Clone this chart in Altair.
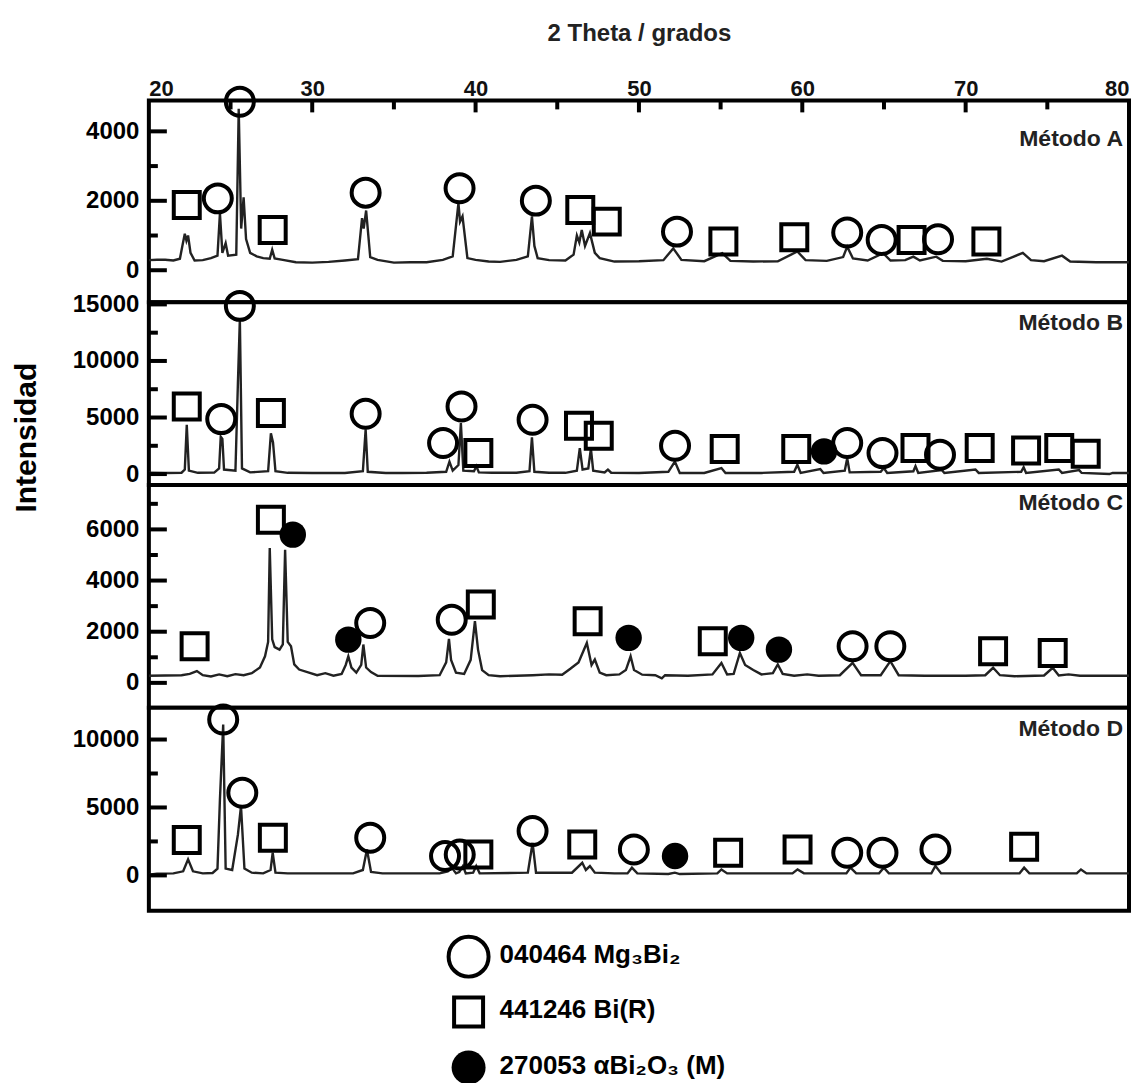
import altair as alt
import pandas as pd

FONT = "Liberation Sans"

# ---------------- data ----------------
x_major = [20, 30, 40, 50, 60, 70, 80]
x_minor = [25, 35, 45, 55, 65, 75]

panel_names = ["Método A", "Método B", "Método C", "Método D"]

# Método A trace (2θ, intensity)
a_x = [20.0, 20.5, 21.0, 21.5, 21.9, 22.05, 22.2, 22.3, 22.4, 22.55, 22.8, 23.3, 23.8, 24.2, 24.35, 24.5,
       24.7, 24.85, 25.35, 25.5, 25.65, 25.8, 25.95, 26.2, 26.6, 27.0, 27.4, 27.55, 27.7, 28.2, 29.0, 30.0,
       31.0, 32.0, 32.8, 33.05, 33.15, 33.3, 33.55, 34.0, 35.0, 36.0, 37.0, 38.0, 38.6, 38.95, 39.05, 39.2,
       39.5, 40.0, 40.8, 41.5, 42.5, 43.2, 43.45, 43.6, 43.8, 44.5, 45.5, 46.0, 46.2, 46.35, 46.5, 46.7,
       47.0, 47.3, 47.6, 48.5, 50.0, 51.5, 52.1, 52.6, 54.0, 55.1, 55.6, 57.0, 58.5, 59.7, 60.2, 61.5,
       62.5, 62.75, 63.1, 64.0, 64.95, 65.4, 66.3, 66.8, 67.2, 68.2, 68.6, 70.0, 71.3, 72.2, 73.5, 74.0,
       74.8, 75.9, 76.4, 78.0, 80.0]
a_y = [290, 300, 300, 280, 330, 700, 1050, 850, 1000, 500, 280, 290, 350, 420, 1640, 500,
       780, 420, 450, 4650, 1200, 2100, 900, 500, 400, 350, 330, 590, 340, 300, 230, 220,
       240, 280, 320, 1500, 1200, 1720, 380, 300, 220, 230, 230, 300, 400, 1930, 1400, 1550,
       350, 300, 250, 240, 300, 400, 1550, 700, 350, 290, 280, 450, 1000, 800, 1160, 700,
       1070, 500, 350, 250, 260, 290, 630, 300, 260, 490, 270, 250, 260, 540, 290, 270,
       380, 680, 340, 280, 490, 280, 290, 390, 280, 390, 270, 260, 330, 250, 500, 290,
       260, 420, 250, 230, 230]

# Método B trace
b_x = [20.0, 21.0, 22.0, 22.2, 22.32, 22.45, 23.0, 24.0, 24.3, 24.4, 24.5, 24.6, 25.3, 25.45, 25.57, 25.7,
       26.2, 27.3, 27.47, 27.6, 27.75, 28.5, 30.0, 32.0, 33.1, 33.27, 33.4, 34.5, 35.5, 37.0, 38.2, 38.4,
       38.6, 38.95, 39.1, 39.25, 39.9, 40.05, 40.2, 41.0, 42.5, 43.3, 43.45, 43.6, 44.5, 45.5, 46.2, 46.38,
       46.55, 46.9, 47.06, 47.2, 47.9, 48.1, 48.3, 50.0, 51.8, 52.2, 52.5, 54.0, 55.05, 55.3, 57.5, 59.5,
       59.7, 59.9, 61.1, 61.3, 62.6, 62.75, 62.9, 64.8, 64.99, 65.2, 66.8, 66.93, 67.1, 68.55, 68.7, 70.6,
       70.8, 73.4, 73.55, 73.7, 75.7, 75.9, 76.95, 77.1, 78.8, 79.0, 80.0]
b_y = [120, 100, 120, 400, 4350, 300, 110, 130, 500, 3300, 3100, 400, 300, 8000, 13700, 500,
       150, 250, 3600, 2800, 250, 110, 100, 100, 250, 3950, 200, 100, 100, 120, 200, 1100,
       300, 800, 4500, 300, 250, 700, 150, 120, 120, 250, 3250, 200, 120, 110, 300, 2300,
       400, 500, 2250, 300, 150, 400, 120, 100, 200, 1100, 100, 100, 530, 100, 100, 200,
       820, 100, 450, 100, 300, 1400, 150, 200, 530, 100, 250, 700, 100, 350, 100, 400,
       100, 200, 600, 100, 400, 100, 350, 100, 0, 100, 100]

# Método C trace
c_x = [20.0, 21.0, 22.0, 22.5, 22.94, 23.3, 23.8, 24.3, 24.8, 25.3, 25.8, 26.3, 26.8, 27.11, 27.3, 27.4,
       27.55, 27.7, 28.0, 28.2, 28.34, 28.5, 28.7, 28.9, 29.2, 29.8, 30.3, 30.8, 31.3, 31.8, 32.05, 32.21,
       32.4, 32.7, 33.0, 33.13, 33.3, 33.6, 34.0, 36.5, 37.8, 38.2, 38.37, 38.5, 38.8, 39.3, 39.7, 39.96,
       40.15, 40.4, 40.8, 41.5, 42.5, 43.5, 44.5, 45.3, 45.8, 46.3, 46.81, 47.1, 47.3, 47.6, 48.0, 48.8,
       49.2, 49.49, 49.7, 50.2, 51.0, 51.4, 51.6, 53.0, 54.5, 55.05, 55.4, 55.8, 56.18, 56.5, 57.0, 57.5,
       58.2, 58.5, 58.8, 59.5, 60.3, 61.0, 62.3, 63.08, 63.6, 64.8, 65.39, 65.9, 67.5, 70.0, 71.2, 71.68,
       72.1, 73.0, 74.8, 75.33, 75.7, 76.3, 77.0, 80.0]
c_y = [280, 290, 300, 350, 460, 300, 250, 330, 260, 340, 300, 380, 600, 1040, 1600, 5270,
       1700, 1400, 1300, 1500, 5200, 1600, 1430, 720, 520, 400, 300, 380, 280, 350, 700, 1040,
       600, 400, 700, 1500, 600, 420, 280, 270, 300, 800, 1720, 900, 400, 350, 900, 2410,
       1300, 500, 300, 260, 280, 300, 330, 320, 550, 800, 1560, 700, 910, 400, 300, 330,
       500, 1040, 500, 320, 300, 180, 300, 280, 330, 780, 330, 350, 1170, 700, 500, 330,
       380, 720, 350, 280, 330, 280, 300, 780, 300, 300, 850, 300, 280, 280, 300, 590,
       300, 260, 290, 590, 290, 330, 280, 280]

# Método D trace
d_x = [20.0, 20.5, 21.5, 22.1, 22.4, 22.7, 23.3, 23.9, 24.2, 24.35, 24.55, 24.7, 25.1, 25.45, 25.64, 25.85,
       26.3, 27.0, 27.45, 27.58, 27.75, 28.5, 32.5, 33.1, 33.35, 33.6, 34.3, 37.8, 38.3, 38.54, 38.8, 39.0,
       39.23, 39.4, 39.85, 40.04, 40.25, 43.2, 43.49, 43.7, 45.9, 46.53, 46.75, 47.0, 47.3, 48.5, 49.3, 49.57,
       49.9, 51.8, 52.2, 52.5, 54.8, 55.05, 55.4, 59.4, 59.71, 60.1, 62.7, 62.95, 63.3, 64.7, 64.99, 65.3,
       67.9, 68.15, 68.5, 73.3, 73.58, 73.9, 76.8, 77.06, 77.4, 80.0]
d_y = [50, 130, 150, 300, 1180, 300, 150, 180, 500, 5590, 11100, 500, 400, 3000, 5100, 500,
       200, 150, 400, 1670, 200, 150, 150, 400, 1910, 250, 150, 150, 300, 570, 150, 250,
       690, 150, 200, 690, 150, 200, 2400, 200, 200, 930, 400, 690, 200, 150, 150, 570,
       150, 100, 200, 100, 150, 440, 150, 150, 440, 150, 150, 570, 150, 150, 570, 150,
       150, 690, 150, 150, 570, 150, 150, 440, 150, 150]

# phase markers: 040464 = Mg3Bi2 (open circle), 441246 = Bi(R) (open square), 270053 = aBi2O3 (filled circle)
a_mx = [22.32, 24.22, 25.57, 27.58, 33.27, 39.02, 43.69, 46.41, 48.03, 52.33, 55.17, 59.51, 62.75, 64.86, 66.69, 68.31, 71.27]
a_my = [1880, 2070, 4855, 1160, 2235, 2360, 2005, 1736, 1400, 1112, 825, 950, 1085, 873, 873, 892, 825]
a_mk = ["441246", "040464", "040464", "441246", "040464", "040464", "040464", "441246", "441246", "040464",
        "441246", "441246", "040464", "040464", "441246", "040464", "441246"]

b_mx = [22.32, 24.43, 25.57, 27.47, 33.27, 38.01, 39.14, 40.17, 43.49, 46.33, 47.54, 52.21, 55.25, 59.63,
        61.33, 62.75, 64.91, 66.93, 68.43, 70.86, 73.70, 75.73, 77.35]
b_my = [5980, 4860, 14870, 5390, 5330, 2740, 5980, 1855, 4800, 4270, 3390, 2500, 2210, 2210,
        2005, 2740, 1855, 2300, 1710, 2300, 2090, 2300, 1795]
b_mk = ["441246", "040464", "040464", "441246", "040464", "040464", "040464", "441246", "040464", "441246",
        "441246", "040464", "441246", "441246", "270053", "040464", "040464", "441246", "040464", "441246",
        "441246", "441246", "441246"]

c_mx = [22.80, 27.47, 28.81, 32.21, 33.55, 38.54, 40.32, 46.86, 49.37, 54.52, 56.26, 58.57, 63.08, 65.39, 71.68, 75.33]
c_my = [1430, 6380, 5795, 1690, 2340, 2470, 3060, 2410, 1760, 1630, 1760, 1300, 1430, 1430, 1240, 1170]
c_mk = ["441246", "441246", "270053", "270053", "040464", "040464", "441246", "441246", "270053", "441246",
        "270053", "270053", "040464", "040464", "441246", "441246"]

d_mx = [22.32, 24.55, 25.72, 27.59, 33.55, 38.13, 39.03, 40.17, 43.49, 46.53, 49.69, 52.21, 55.46, 59.71,
        62.75, 64.91, 68.15, 73.58]
d_my = [2600, 11470, 6080, 2770, 2770, 1430, 1540, 1540, 3265, 2280, 1910, 1430, 1670, 1910, 1670, 1670, 1910, 2110]
d_mk = ["441246", "040464", "040464", "441246", "040464", "040464", "040464", "441246", "040464", "441246",
        "040464", "270053", "441246", "441246", "040464", "040464", "040464", "441246"]

# y-axis ticks per panel
a_major, a_minor = [0, 2000, 4000], [1000, 3000]
b_major, b_minor = [0, 5000, 10000, 15000], [2500, 7500, 12500]
c_major, c_minor = [0, 2000, 4000, 6000], [1000, 3000, 5000, 7000]
d_major, d_minor = [0, 5000, 10000], [2500, 7500]

legend_codes = ["040464", "441246", "270053"]
legend_labels = ["040464 Mg₃Bi₂", "441246 Bi(R)", "270053 αBi₂O₃ (M)"]
legend_rows = [1, 2, 3]

# ---------------- layout / style ----------------
W = 981
STYLE = {
    "040464": dict(shape="circle", filled=False, size=784),
    "441246": dict(shape="square", filled=False, size=676),
    "270053": dict(shape="circle", filled=True, size=700),
}
FRAME = alt.ViewBackground(stroke="black", strokeWidth=4, fill="white")


def build_panel(name, tx, ty, mx, my, mk, ydom, major, minor, height, label_y,
                top_axis=False, ytitle=False):
    xs = alt.Scale(domain=[20, 80], nice=False, zero=False)
    ys = alt.Scale(domain=ydom, nice=False, zero=False)
    if top_axis:
        xax = alt.Axis(orient="top", values=x_major, ticks=False, tickSize=0, domain=False, grid=False,
                       labelFlush=True, labelFontSize=22, labelFont=FONT, labelColor="#111",
                       labelFontWeight="bold", labelPadding=0, titleFont=FONT, titleFontSize=24,
                       titleFontWeight="bold", titleColor="#222", titlePadding=32, format="d")
        xtitle = "2 Theta / grados"
    else:
        xax = alt.Axis(labels=False, ticks=False, domain=False, grid=False)
        xtitle = None
    yargs = dict(values=major, ticks=False, tickSize=0, domain=False, grid=False, labelFont=FONT,
                 labelFontSize=24, labelFontWeight="bold", labelColor="black", labelPadding=10,
                 format="d")
    if ytitle:
        yargs.update(titleFont=FONT, titleFontSize=30, titleFontWeight="bold", titleColor="black",
                     titleAngle=270, titleX=-122, titleY=135, titleAlign="center",
                     titleBaseline="middle")
    yax = alt.Axis(**yargs)
    yt = "Intensidad" if ytitle else None

    def X(f):
        return alt.X(f, scale=xs, axis=xax, title=xtitle)

    def Y(f):
        return alt.Y(f, scale=ys, axis=yax, title=yt)

    trace = pd.DataFrame({"theta": tx, "intensidad": ty})
    marks = pd.DataFrame({"theta": mx, "intensidad": my, "fase": mk})

    layers = [
        alt.Chart(trace).mark_line(color="#222", strokeWidth=2.4, clip=True).encode(
            x=X("theta:Q"), y=Y("intensidad:Q"))
    ]
    for code, st in STYLE.items():
        sub = marks[marks["fase"] == code]
        if len(sub) == 0:
            continue
        if st["filled"]:
            mark = alt.Chart(sub).mark_point(shape=st["shape"], filled=True, size=st["size"],
                                              color="black", opacity=1)
        else:
            mark = alt.Chart(sub).mark_point(shape=st["shape"], filled=False, size=st["size"],
                                              color="black", strokeWidth=4, opacity=1)
        layers.append(mark.encode(x=X("theta:Q"), y=Y("intensidad:Q")))

    # inward y ticks
    layers.append(alt.Chart(pd.DataFrame({"v": major})).mark_rule(color="black", strokeWidth=4).encode(
        y=Y("v:Q"), x=alt.value(0), x2=alt.value(18)))
    layers.append(alt.Chart(pd.DataFrame({"v": minor})).mark_rule(color="black", strokeWidth=4).encode(
        y=Y("v:Q"), x=alt.value(0), x2=alt.value(9)))
    if top_axis:
        layers.append(alt.Chart(pd.DataFrame({"v": x_major[1:-1]})).mark_rule(color="black", strokeWidth=4)
                      .encode(x=X("v:Q"), y=alt.value(0), y2=alt.value(12)))
        layers.append(alt.Chart(pd.DataFrame({"v": x_minor})).mark_rule(color="black", strokeWidth=4)
                      .encode(x=X("v:Q"), y=alt.value(0), y2=alt.value(9)))
    layers.append(alt.Chart(pd.DataFrame({"m": [name]})).mark_text(
        align="right", baseline="alphabetic", font=FONT, fontSize=23, fontWeight="bold", color="#222")
        .encode(text="m:N", x=alt.value(W - 6), y=alt.value(label_y)))
    return alt.layer(*layers).properties(width=W, height=height, view=FRAME)


pA = build_panel(panel_names[0], a_x, a_y, a_mx, a_my, a_mk, [-921, 4892], a_major, a_minor, 202, 46,
                 top_axis=True)
pB = build_panel(panel_names[1], b_x, b_y, b_mx, b_my, b_mk, [-972, 15194], b_major, b_minor, 183, 28,
                 ytitle=True)
pC = build_panel(panel_names[2], c_x, c_y, c_mx, c_my, c_mk, [-977, 7734], c_major, c_minor, 223, 25)
pD = build_panel(panel_names[3], d_x, d_y, d_mx, d_my, d_mk, [-2596, 12331], d_major, d_minor, 203, 28)

# legend panel
leg = pd.DataFrame({"row": legend_rows, "label": legend_labels, "fase": legend_codes})
ly = alt.Y("row:Q", scale=alt.Scale(domain=[0.171, 3.054], reverse=True, nice=False, zero=False), axis=None)
LEG_SIZE = {"040464": 1600, "441246": 841, "270053": 1156}
leg_layers = []
for code, st in STYLE.items():
    sub = leg[leg["fase"] == code]
    if st["filled"]:
        m = alt.Chart(sub).mark_point(shape=st["shape"], filled=True, size=LEG_SIZE[code], color="black", opacity=1)
    else:
        m = alt.Chart(sub).mark_point(shape=st["shape"], filled=False, size=LEG_SIZE[code], color="black",
                                      strokeWidth=4, opacity=1)
    leg_layers.append(m.encode(x=alt.value(320), y=ly))
leg_layers.append(alt.Chart(leg).mark_text(align="left", baseline="middle", font=FONT, fontSize=26,
                                           fontWeight="bold", color="black", dy=-2)
                  .encode(x=alt.value(351), y=ly, text="label:N"))
pL = alt.layer(*leg_layers).properties(width=W, height=160,
                                       view=alt.ViewBackground(stroke="white", strokeWidth=0))

chart = alt.vconcat(pA, pB, pC, pD, pL, spacing=0, bounds="flush").resolve_scale(
    x="independent", y="independent").resolve_axis(x="independent", y="independent").properties(
    padding={"left": 10, "top": 19, "right": 0, "bottom": 2}
).configure(font=FONT, background="white")

chart.save("out.html", embed_options={"renderer": "svg", "actions": False})
